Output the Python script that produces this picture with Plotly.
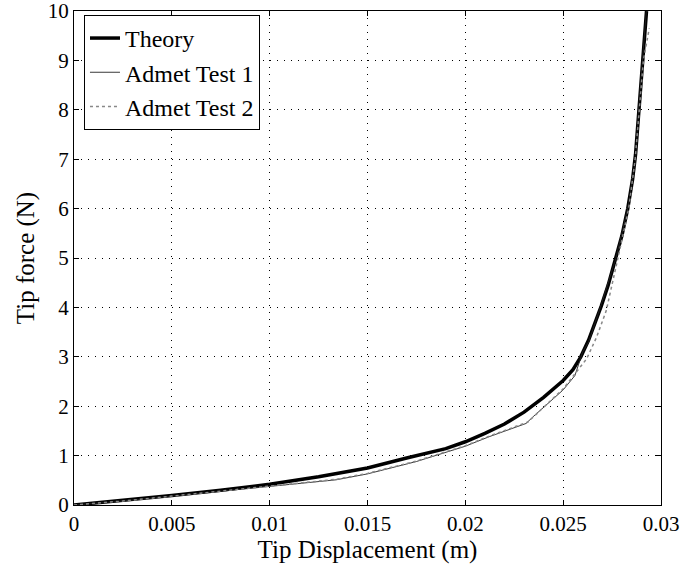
import plotly.graph_objects as go

theory_x = [0, 0.0025, 0.005, 0.0075, 0.01, 0.0125, 0.015, 0.017, 0.019, 0.02, 0.021, 0.022, 0.023,
            0.024, 0.025, 0.0255, 0.0259, 0.0263, 0.0267, 0.02695, 0.0273, 0.0277, 0.0280, 0.0283,
            0.02855, 0.0287, 0.02888, 0.02908, 0.02926]
theory_f = [0, 0.09, 0.19, 0.30, 0.42, 0.57, 0.75, 0.95, 1.14, 1.28, 1.45, 1.64, 1.88,
            2.18, 2.52, 2.74, 3.0, 3.34, 3.74, 4.03, 4.45, 5.0, 5.45, 6.0,
            6.6, 7.1, 8.0, 9.0, 10.0]

test1_x = [0, 0.0025, 0.005, 0.0075, 0.01, 0.0134, 0.015, 0.0175, 0.02, 0.0212, 0.0231, 0.0235,
           0.025, 0.0256, 0.0260, 0.0263, 0.0269, 0.0277, 0.0283, 0.0287, 0.02885, 0.02905, 0.02925]
test1_f = [0, 0.08, 0.18, 0.28, 0.37, 0.51, 0.63, 0.88, 1.19, 1.38, 1.65, 1.80,
           2.33, 2.62, 3.1, 3.3, 4.0, 5.0, 6.0, 7.0, 8.0, 9.0, 10.0]

test2_x = [0, 0.0025, 0.005, 0.0075, 0.01, 0.0134, 0.015, 0.0175, 0.02, 0.0212, 0.0232, 0.0241,
           0.025, 0.0262, 0.0267, 0.02695, 0.0272, 0.0278, 0.02835, 0.02868, 0.0289, 0.0291, 0.0294]
test2_f = [0, 0.08, 0.18, 0.28, 0.38, 0.52, 0.64, 0.89, 1.2, 1.39, 1.68, 2.02,
           2.35, 2.96, 3.39, 3.66, 3.93, 5.0, 6.0, 7.0, 8.0, 9.0, 9.65]

x_ticks = [0, 0.005, 0.01, 0.015, 0.02, 0.025, 0.03]
x_labels = ["0", "0.005", "0.01", "0.015", "0.02", "0.025", "0.03"]
y_ticks = list(range(0, 11))
y_labels = [str(v) for v in y_ticks]

FONT = "Liberation Serif"

fig = go.Figure()
fig.add_trace(go.Scatter(x=theory_x, y=theory_f, mode="lines", name="Theory",
                         line=dict(color="black", width=3.5)))
fig.add_trace(go.Scatter(x=test1_x, y=test1_f, mode="lines", name="Admet Test 1",
                         line=dict(color="#222222", width=0.9)))
fig.add_trace(go.Scatter(x=test2_x, y=test2_f, mode="lines", name="Admet Test 2",
                         line=dict(color="#888888", width=1.5, dash="dot")))

axis_common = dict(
    showline=True, linecolor="black", linewidth=1, mirror="ticks",
    ticks="inside", ticklen=5, tickcolor="black", tickwidth=1,
    showgrid=True, gridcolor="black", gridwidth=1, griddash="1px,6px",
    zeroline=False, tickfont=dict(family=FONT, size=21, color="black"),
    ticklabeloverflow="allow", automargin=False,
)

fig.update_layout(
    width=683, height=568,
    margin=dict(l=74, r=22, t=11, b=63),
    paper_bgcolor="white", plot_bgcolor="white",
    font=dict(family=FONT, color="black"),
    xaxis=dict(range=[0, 0.03], tickvals=x_ticks, ticktext=x_labels,
               title=dict(text="Tip Displacement (m)", font=dict(family=FONT, size=25), standoff=2),
               **axis_common),
    yaxis=dict(range=[0, 10], tickvals=y_ticks, ticktext=y_labels,
               title=dict(text="Tip force (N)", font=dict(family=FONT, size=25), standoff=6),
               **axis_common),
    legend=dict(x=0.017, y=0.992, xanchor="left", yanchor="top",
                bgcolor="white", bordercolor="black", borderwidth=1,
                font=dict(family=FONT, size=24, color="black"),
                tracegroupgap=0, itemwidth=30),
    showlegend=True,
)

fig.write_html("out.html")
